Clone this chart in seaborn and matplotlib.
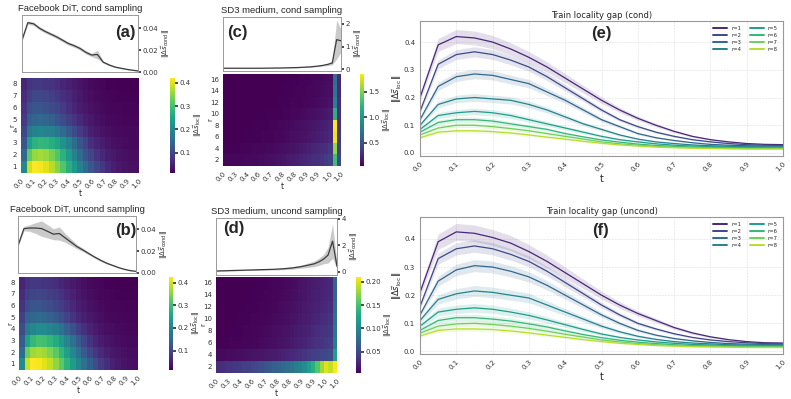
import numpy as np
import pandas as pd
import seaborn as sns
import matplotlib.pyplot as plt

# time grid for DiT panels and locality-gap curves
t_grid = [0.0, 0.05, 0.1, 0.15, 0.2, 0.25, 0.3, 0.35, 0.4, 0.45, 0.5,
          0.55, 0.6, 0.65, 0.7, 0.75, 0.8, 0.85, 0.9, 0.95, 1.0]
t_ticklabels = ["0.0", "0.1", "0.2", "0.3", "0.4", "0.5", "0.6", "0.7", "0.8", "0.9", "1.0"]
r_dit = [1, 2, 3, 4, 5, 6, 7, 8]
r_sd3 = [2, 4, 6, 8, 10, 12, 14, 16]
sd3_ticklabels = ["0.0", "0.3", "0.4", "0.6", "0.7", "0.8", "0.8", "0.9", "0.9", "1.0", "1.0"]

# locality gap, cond (rows r=1..8)
gap_cond = [
    [0.20, 0.39, 0.42, 0.415, 0.40, 0.375, 0.345, 0.31, 0.27, 0.23, 0.19, 0.155, 0.125, 0.10, 0.078, 0.06, 0.048, 0.04, 0.034, 0.031, 0.03],
    [0.15, 0.32, 0.355, 0.365, 0.355, 0.335, 0.31, 0.275, 0.235, 0.195, 0.155, 0.12, 0.095, 0.075, 0.06, 0.048, 0.04, 0.034, 0.03, 0.028, 0.027],
    [0.12, 0.24, 0.275, 0.285, 0.28, 0.265, 0.25, 0.22, 0.19, 0.155, 0.12, 0.095, 0.07, 0.055, 0.045, 0.037, 0.031, 0.028, 0.026, 0.025, 0.025],
    [0.10, 0.175, 0.195, 0.20, 0.195, 0.19, 0.175, 0.155, 0.13, 0.105, 0.085, 0.065, 0.05, 0.04, 0.034, 0.029, 0.026, 0.024, 0.023, 0.022, 0.022],
    [0.085, 0.135, 0.145, 0.15, 0.145, 0.135, 0.12, 0.105, 0.09, 0.075, 0.06, 0.048, 0.04, 0.033, 0.028, 0.025, 0.023, 0.021, 0.02, 0.02, 0.02],
    [0.075, 0.11, 0.12, 0.12, 0.115, 0.105, 0.095, 0.085, 0.07, 0.058, 0.047, 0.039, 0.032, 0.027, 0.024, 0.021, 0.02, 0.019, 0.018, 0.018, 0.018],
    [0.065, 0.09, 0.10, 0.10, 0.095, 0.088, 0.08, 0.07, 0.06, 0.05, 0.04, 0.033, 0.028, 0.024, 0.021, 0.019, 0.018, 0.017, 0.016, 0.016, 0.016],
    [0.055, 0.075, 0.08, 0.08, 0.077, 0.072, 0.065, 0.057, 0.05, 0.042, 0.035, 0.029, 0.025, 0.021, 0.019, 0.017, 0.016, 0.015, 0.014, 0.014, 0.014],
]
spread_cond = [0.06, 0.05, 0.06, 0.07, 0.08, 0.08, 0.08, 0.09]

# locality gap, uncond
gap_uncond = [
    [0.21, 0.39, 0.425, 0.42, 0.405, 0.385, 0.355, 0.32, 0.28, 0.24, 0.20, 0.165, 0.135, 0.11, 0.085, 0.066, 0.052, 0.042, 0.035, 0.031, 0.03],
    [0.16, 0.33, 0.365, 0.375, 0.365, 0.345, 0.32, 0.285, 0.245, 0.205, 0.165, 0.13, 0.10, 0.08, 0.063, 0.05, 0.041, 0.035, 0.031, 0.028, 0.027],
    [0.13, 0.25, 0.29, 0.305, 0.30, 0.285, 0.265, 0.235, 0.20, 0.165, 0.13, 0.10, 0.075, 0.058, 0.046, 0.038, 0.032, 0.028, 0.026, 0.025, 0.025],
    [0.11, 0.185, 0.205, 0.215, 0.21, 0.20, 0.19, 0.165, 0.14, 0.115, 0.09, 0.07, 0.054, 0.043, 0.035, 0.03, 0.027, 0.024, 0.023, 0.022, 0.022],
    [0.09, 0.14, 0.15, 0.155, 0.15, 0.14, 0.128, 0.112, 0.095, 0.078, 0.062, 0.05, 0.041, 0.034, 0.029, 0.025, 0.023, 0.021, 0.02, 0.02, 0.02],
    [0.075, 0.11, 0.12, 0.12, 0.115, 0.108, 0.098, 0.087, 0.073, 0.06, 0.049, 0.04, 0.033, 0.028, 0.024, 0.021, 0.02, 0.019, 0.018, 0.018, 0.018],
    [0.065, 0.09, 0.098, 0.10, 0.096, 0.09, 0.082, 0.072, 0.061, 0.051, 0.041, 0.034, 0.028, 0.024, 0.021, 0.019, 0.018, 0.017, 0.016, 0.016, 0.016],
    [0.055, 0.075, 0.08, 0.08, 0.078, 0.073, 0.066, 0.058, 0.05, 0.042, 0.035, 0.029, 0.025, 0.021, 0.019, 0.017, 0.016, 0.015, 0.014, 0.014, 0.014],
]
spread_uncond = [0.07, 0.06, 0.07, 0.09, 0.10, 0.10, 0.10, 0.10]

# DiT ||ds_cond|| curves
dit_cond_line = [0.029, 0.045, 0.044, 0.040, 0.037, 0.0345, 0.032, 0.029, 0.026, 0.024, 0.0215,
                 0.018, 0.0155, 0.016, 0.009, 0.0065, 0.0046, 0.0035, 0.0025, 0.0017, 0.001]
dit_cond_sd = [0.001, 0.0015, 0.0015, 0.0015, 0.0015, 0.0015, 0.0015, 0.0015, 0.0015, 0.0015, 0.0015,
               0.0015, 0.0015, 0.004, 0.001, 0.0008, 0.0006, 0.0005, 0.0004, 0.0003, 0.0002]
dit_uncond_line = [0.025, 0.0405, 0.041, 0.041, 0.0405, 0.038, 0.0354, 0.036, 0.032, 0.028, 0.024,
                   0.021, 0.0177, 0.0145, 0.0116, 0.009, 0.007, 0.005, 0.0034, 0.0022, 0.0015]
dit_uncond_sd = [0.001, 0.002, 0.003, 0.005, 0.007, 0.006, 0.005, 0.006, 0.004, 0.003, 0.002,
                 0.0015, 0.0012, 0.001, 0.001, 0.0008, 0.0006, 0.0005, 0.0004, 0.0003, 0.0002]

# SD3 ||ds_cond|| curves (28 sampling steps)
sd3_step = list(range(28))
sd3_cond_line = [0.05, 0.05, 0.05, 0.05, 0.05, 0.05, 0.05, 0.05, 0.05, 0.05, 0.055, 0.055, 0.06, 0.06,
                 0.065, 0.07, 0.075, 0.08, 0.09, 0.10, 0.11, 0.13, 0.15, 0.18, 0.22, 0.28, 1.30, 1.25]
sd3_cond_sd = [0.01, 0.01, 0.01, 0.01, 0.01, 0.01, 0.01, 0.01, 0.01, 0.01, 0.01, 0.01, 0.01, 0.01,
               0.01, 0.01, 0.01, 0.015, 0.015, 0.02, 0.02, 0.02, 0.03, 0.03, 0.05, 0.08, 0.85, 0.5]
sd3_uncond_line = [0.05, 0.06, 0.07, 0.08, 0.09, 0.10, 0.11, 0.12, 0.13, 0.14, 0.15, 0.16, 0.17, 0.18,
                   0.20, 0.22, 0.25, 0.28, 0.33, 0.38, 0.45, 0.52, 0.60, 0.75, 0.95, 1.25, 2.30, 0.40]
sd3_uncond_sd = [0.02, 0.02, 0.02, 0.02, 0.03, 0.03, 0.03, 0.03, 0.04, 0.04, 0.04, 0.05, 0.05, 0.05,
                 0.06, 0.07, 0.08, 0.09, 0.10, 0.12, 0.15, 0.18, 0.22, 0.28, 0.35, 0.6, 1.3, 0.2]

# SD3 heatmaps, rows r=2..16
sd3_cond_heat = [
    [0.08, 0.08, 0.08, 0.08, 0.08, 0.09, 0.09, 0.09, 0.10, 0.10, 0.11, 0.12, 0.13, 0.14, 0.15, 0.17, 0.18, 0.20, 0.22, 0.24, 0.26, 0.28, 0.30, 0.33, 0.36, 0.40, 1.30, 0.45],
    [0.06, 0.06, 0.06, 0.06, 0.07, 0.07, 0.07, 0.08, 0.08, 0.08, 0.09, 0.09, 0.10, 0.11, 0.12, 0.13, 0.14, 0.15, 0.17, 0.19, 0.21, 0.23, 0.25, 0.27, 0.30, 0.34, 1.55, 0.40],
    [0.05, 0.05, 0.05, 0.05, 0.05, 0.06, 0.06, 0.06, 0.06, 0.07, 0.07, 0.07, 0.08, 0.08, 0.09, 0.10, 0.11, 0.12, 0.13, 0.14, 0.15, 0.17, 0.19, 0.21, 0.23, 0.26, 1.80, 0.35],
    [0.05, 0.05, 0.05, 0.05, 0.05, 0.05, 0.05, 0.06, 0.06, 0.06, 0.06, 0.07, 0.07, 0.08, 0.08, 0.09, 0.10, 0.11, 0.12, 0.13, 0.14, 0.15, 0.17, 0.19, 0.21, 0.24, 1.85, 0.33],
    [0.05, 0.05, 0.05, 0.05, 0.05, 0.05, 0.05, 0.05, 0.05, 0.05, 0.06, 0.06, 0.06, 0.06, 0.07, 0.07, 0.08, 0.08, 0.09, 0.10, 0.11, 0.12, 0.13, 0.14, 0.16, 0.18, 1.20, 0.30],
    [0.05, 0.05, 0.05, 0.05, 0.05, 0.05, 0.05, 0.05, 0.05, 0.05, 0.05, 0.05, 0.05, 0.06, 0.06, 0.06, 0.07, 0.07, 0.07, 0.08, 0.08, 0.09, 0.10, 0.11, 0.12, 0.14, 0.85, 0.28],
    [0.05, 0.05, 0.05, 0.05, 0.05, 0.05, 0.05, 0.05, 0.05, 0.05, 0.05, 0.05, 0.05, 0.05, 0.06, 0.06, 0.06, 0.07, 0.07, 0.07, 0.08, 0.08, 0.09, 0.10, 0.11, 0.12, 0.75, 0.26],
    [0.05, 0.05, 0.05, 0.05, 0.05, 0.05, 0.05, 0.05, 0.05, 0.05, 0.05, 0.05, 0.05, 0.05, 0.05, 0.06, 0.06, 0.06, 0.07, 0.07, 0.07, 0.08, 0.08, 0.09, 0.10, 0.11, 0.70, 0.25],
]
sd3_uncond_heat = [
    [0.030, 0.032, 0.034, 0.036, 0.038, 0.040, 0.042, 0.045, 0.048, 0.051, 0.054, 0.058, 0.062, 0.066, 0.070, 0.074, 0.078, 0.083, 0.090, 0.097, 0.105, 0.12, 0.135, 0.155, 0.18, 0.20, 0.19, 0.21],
    [0.010, 0.010, 0.011, 0.011, 0.012, 0.012, 0.013, 0.014, 0.015, 0.016, 0.017, 0.018, 0.019, 0.020, 0.022, 0.024, 0.026, 0.028, 0.030, 0.033, 0.036, 0.039, 0.042, 0.045, 0.048, 0.050, 0.052, 0.12],
    [0.006, 0.006, 0.006, 0.007, 0.007, 0.007, 0.008, 0.008, 0.009, 0.009, 0.010, 0.011, 0.012, 0.013, 0.014, 0.015, 0.017, 0.019, 0.021, 0.023, 0.025, 0.028, 0.031, 0.034, 0.037, 0.040, 0.042, 0.09],
    [0.005, 0.005, 0.005, 0.006, 0.006, 0.006, 0.007, 0.007, 0.008, 0.008, 0.009, 0.010, 0.011, 0.012, 0.013, 0.014, 0.015, 0.017, 0.019, 0.021, 0.023, 0.025, 0.028, 0.031, 0.034, 0.036, 0.038, 0.085],
    [0.005, 0.005, 0.005, 0.005, 0.005, 0.006, 0.006, 0.006, 0.007, 0.007, 0.008, 0.008, 0.009, 0.010, 0.011, 0.012, 0.013, 0.015, 0.016, 0.018, 0.020, 0.022, 0.025, 0.027, 0.030, 0.032, 0.034, 0.08],
    [0.005, 0.005, 0.005, 0.005, 0.005, 0.005, 0.005, 0.006, 0.006, 0.006, 0.007, 0.007, 0.008, 0.009, 0.010, 0.011, 0.012, 0.013, 0.014, 0.016, 0.018, 0.020, 0.022, 0.024, 0.027, 0.029, 0.031, 0.075],
    [0.005, 0.005, 0.005, 0.005, 0.005, 0.005, 0.005, 0.005, 0.006, 0.006, 0.006, 0.007, 0.007, 0.008, 0.009, 0.010, 0.011, 0.012, 0.013, 0.015, 0.017, 0.019, 0.021, 0.023, 0.025, 0.027, 0.029, 0.07],
    [0.005, 0.005, 0.005, 0.005, 0.005, 0.005, 0.005, 0.005, 0.005, 0.006, 0.006, 0.006, 0.007, 0.008, 0.008, 0.009, 0.010, 0.011, 0.012, 0.014, 0.016, 0.018, 0.020, 0.022, 0.024, 0.026, 0.028, 0.07],
]

sns.set_theme(style="white")
plt.rcParams['font.family'] = ['DejaVu Sans']
GRAY = "#999999"
COND_LABEL = r'$\|\Delta\vec{s}_{\mathrm{cond}}\|$'
LOC_LABEL = r'$\|\Delta\vec{s}_{\mathrm{loc}}\|$'


def line_panel(ax, x, y, sd, xlim, ylim, yticks, title, tag, tag_xy):
    y = np.array(y)
    sd = np.array(sd)
    ax.fill_between(x, y - sd, y + sd, color="#bdbdbd", alpha=0.8, lw=0)
    sns.lineplot(x=x, y=y, color="#3c3c3c", lw=0.9, ax=ax)
    ax.set_xlim(xlim)
    ax.set_ylim(ylim)
    ax.yaxis.tick_right()
    ax.yaxis.set_label_position("right")
    ax.set_yticks(yticks)
    ax.set_xticklabels([])
    ax.tick_params(axis='x', length=0)
    ax.tick_params(axis='y', labelsize=5, length=2, pad=1, colors="#333333")
    ax.set_ylabel(COND_LABEL, fontsize=5, labelpad=1)
    for s in ax.spines.values():
        s.set_color(GRAY)
        s.set_linewidth(0.7)
    ax.set_title(title, fontsize=6.8, pad=3, family='Liberation Sans')
    ax.text(tag_xy[0], tag_xy[1], tag, transform=ax.transAxes, ha='center', va='center',
            fontsize=12, fontweight='bold', family='Liberation Sans')


def heat_panel(ax, cax, values, rows, xticklabels, cbar_ticks):
    df = pd.DataFrame(values, index=rows)
    sns.heatmap(df, cmap="viridis", ax=ax, cbar_ax=cax, cbar_kws={'ticks': cbar_ticks})
    ax.invert_yaxis()
    n = df.shape[1]
    ax.set_xticks(np.linspace(0, n, len(xticklabels)))
    ax.set_xticklabels(xticklabels, rotation=45, ha='right', rotation_mode='anchor', fontsize=5)
    ax.set_yticks(np.arange(len(rows)) + 0.5)
    ax.set_yticklabels(rows, rotation=0, fontsize=5)
    ax.tick_params(length=2, pad=1, colors="#333333")
    ax.set_xlabel('t', fontsize=5.5, labelpad=0)
    ax.set_ylabel('r', fontsize=5, labelpad=-2.5)
    cax.tick_params(labelsize=5, length=2, pad=1, colors="#333333")
    cax.set_ylabel(LOC_LABEL, fontsize=5, labelpad=0.5)


def gap_panel(ax, means, spreads, title, tag, tag_xy, ylim):
    palette = sns.color_palette("viridis", len(means))
    frames = []
    for k, m in enumerate(means):
        frames.append(pd.DataFrame({'t': t_grid, 'gap': m, 'r': f"r={k + 1}"}))
    df = pd.concat(frames, ignore_index=True)
    for k, m in enumerate(means):
        m = np.array(m)
        ax.fill_between(t_grid, m * (1 - spreads[k]), m * (1 + spreads[k]),
                        color=palette[k], alpha=0.15, lw=0)
    sns.lineplot(data=df, x='t', y='gap', hue='r', palette=palette, lw=0.9, ax=ax)
    ax.set_xlim(0, 1)
    ax.set_ylim(ylim)
    ax.set_xticks(t_grid[::2])
    ax.set_xticklabels(t_ticklabels, rotation=45, ha='right', rotation_mode='anchor', fontsize=5)
    ax.set_yticks([0.0, 0.1, 0.2, 0.3, 0.4])
    ax.tick_params(axis='y', labelsize=5)
    ax.tick_params(length=2, pad=1.5, colors="#333333")
    ax.grid(True, ls='--', lw=0.4, color='#dddddd')
    ax.set_xlabel('t', fontsize=7, labelpad=1)
    ax.set_ylabel(LOC_LABEL, fontsize=6, labelpad=0)
    ax.set_title(title, fontsize=6, pad=2)
    for s in ax.spines.values():
        s.set_color(GRAY)
        s.set_linewidth(0.8)
    handles, labels = ax.get_legend_handles_labels()
    leg = ax.legend(handles, labels, ncol=2, fontsize=3.8, frameon=False, loc='upper right',
                    handlelength=2.6, columnspacing=1.6, labelspacing=0.35, borderaxespad=0.6)
    for h in leg.get_lines():
        h.set_linewidth(1.4)
    ax.text(tag_xy[0], tag_xy[1], tag, transform=ax.transAxes, ha='center', va='center',
            fontsize=12, fontweight='bold', family='Liberation Sans')


fig = plt.figure(figsize=(7.91, 3.99), dpi=100)

# (a) DiT cond
ax = fig.add_axes([0.0278, 0.8195, 0.1467, 0.1429])
line_panel(ax, t_grid, dit_cond_line, dit_cond_sd, (0, 1), (0, 0.052), [0.0, 0.02, 0.04],
           "Facebook DiT, cond sampling", "(a)", (0.89, 0.70))
ax.set_yticklabels(["0.00", "0.02", "0.04"])
ax = fig.add_axes([0.0265, 0.5664, 0.1492, 0.2381])
cax = fig.add_axes([0.2149, 0.5664, 0.0063, 0.2381])
heat_panel(ax, cax, gap_cond, r_dit, t_ticklabels, [0.1, 0.2, 0.3, 0.4])

# (b) DiT uncond
ax = fig.add_axes([0.0228, 0.3158, 0.1492, 0.1429])
line_panel(ax, t_grid, dit_uncond_line, dit_uncond_sd, (0, 1), (0, 0.052), [0.0, 0.02, 0.04],
           "Facebook DiT, uncond sampling", "(b)", (0.91, 0.75))
ax.set_yticklabels(["0.00", "0.02", "0.04"])
ax = fig.add_axes([0.0240, 0.0727, 0.1505, 0.2331])
cax = fig.add_axes([0.2137, 0.0727, 0.0051, 0.2331])
heat_panel(ax, cax, gap_uncond, r_dit, t_ticklabels, [0.1, 0.2, 0.3, 0.4])

# (c) SD3 cond
ax = fig.add_axes([0.2819, 0.8221, 0.1492, 0.1353])
line_panel(ax, sd3_step, sd3_cond_line, sd3_cond_sd, (0, 27), (-0.07, 2.29), [0, 1, 2],
           "SD3 medium, cond sampling", "(c)", (0.12, 0.72))
ax = fig.add_axes([0.2819, 0.5840, 0.1492, 0.2306])
cax = fig.add_axes([0.4551, 0.5840, 0.0051, 0.2306])
heat_panel(ax, cax, sd3_cond_heat, r_sd3, sd3_ticklabels, [0.5, 1.0, 1.5])

# (d) SD3 uncond
ax = fig.add_axes([0.2731, 0.3108, 0.1530, 0.1429])
line_panel(ax, sd3_step, sd3_uncond_line, sd3_uncond_sd, (0, 27), (-0.25, 4.05), [0, 2, 4],
           "SD3 medium, uncond sampling", "(d)", (0.145, 0.82))
ax = fig.add_axes([0.2731, 0.0652, 0.1530, 0.2406])
cax = fig.add_axes([0.4501, 0.0652, 0.0063, 0.2406])
heat_panel(ax, cax, sd3_uncond_heat, r_sd3, sd3_ticklabels, [0.05, 0.10, 0.15, 0.20])

# (e), (f) locality gap curves
ax = fig.add_axes([0.5310, 0.6090, 0.4589, 0.3383])
gap_panel(ax, gap_cond, spread_cond, "Train locality gap (cond)", "(e)", (0.50, 0.91), (-0.011, 0.476))
ax = fig.add_axes([0.5310, 0.1128, 0.4589, 0.3434])
gap_panel(ax, gap_uncond, spread_uncond, "Train locality gap (uncond)", "(f)", (0.496, 0.90), (-0.009, 0.478))

fig.savefig("out.png", dpi=100)
